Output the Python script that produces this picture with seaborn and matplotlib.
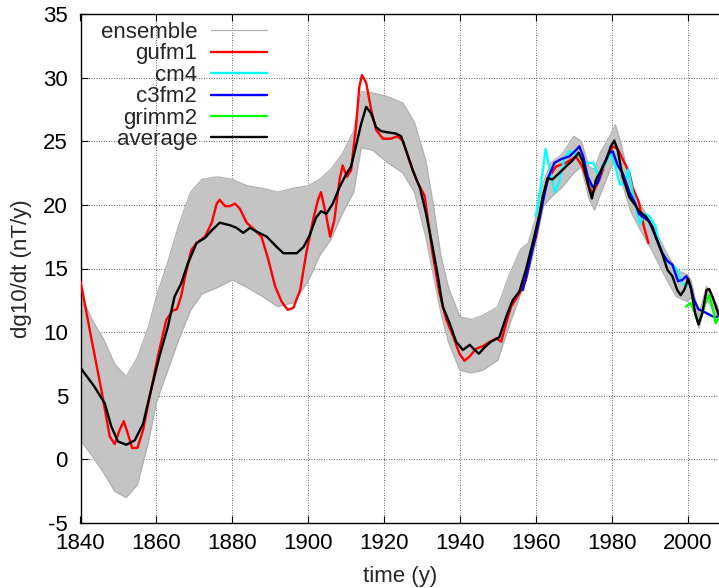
import numpy as np
import pandas as pd
import matplotlib
matplotlib.use("Agg")
import matplotlib.pyplot as plt
import seaborn as sns

# ---------------- data ----------------
ens_year = [1840, 1843, 1846, 1849, 1852, 1855, 1858, 1860, 1863, 1866, 1869, 1872,
            1876, 1880, 1884, 1888, 1892, 1896, 1900, 1903, 1906, 1909, 1912, 1914,
            1917, 1921, 1925, 1928, 1931, 1933, 1935, 1937, 1940, 1943, 1946, 1950,
            1953, 1956, 1958, 1960, 1962, 1964, 1967, 1970, 1972, 1974, 1975.5, 1977,
            1979.5, 1981, 1982.5, 1985, 1988, 1991, 1994, 1997, 2000, 2001, 2003,
            2005, 2008.3]
ens_lo = [1.5, 0.3, -1.0, -2.5, -3.0, -2.0, 1.5, 4.5, 7.0, 9.5, 11.7, 13.0,
          13.5, 14.1, 13.5, 12.8, 12.0, 12.3, 14.0, 16.0, 17.3, 19.3, 21.0, 24.5,
          24.3, 23.3, 22.5, 21.0, 17.5, 14.5, 11.5, 9.2, 7.0, 6.8, 7.0, 7.8,
          10.5, 13.0, 14.6, 17.0, 19.9, 20.6, 21.4, 22.5, 23.0, 20.5, 19.6, 20.8,
          22.7, 23.8, 22.0, 19.5, 17.8, 16.2, 14.4, 12.8, 12.4, 12.8, 10.3,
          12.6, 11.0]
ens_hi = [13.0, 11.0, 9.5, 7.5, 6.5, 8.0, 10.5, 12.8, 15.5, 18.5, 21.0, 22.0,
          22.2, 22.0, 21.5, 21.3, 21.0, 21.3, 21.5, 22.0, 22.8, 24.0, 25.8, 28.9,
          28.8, 28.5, 28.0, 26.5, 23.5, 20.0, 16.0, 13.5, 11.2, 11.0, 11.3, 12.0,
          14.5, 16.5, 17.0, 19.0, 21.8, 23.3, 24.0, 25.4, 25.0, 23.0, 22.8, 24.1,
          25.4, 26.3, 24.8, 21.5, 19.8, 18.3, 16.5, 14.9, 14.5, 14.0, 11.3,
          13.6, 11.8]

gufm1_year = [1840, 1842.8, 1845.5, 1847.7, 1849.0, 1850.3, 1851.4, 1852.5, 1853.6,
              1855.0, 1856.5, 1858.2, 1860.4, 1862.6, 1864.3, 1865.4, 1866.5, 1867.6,
              1869.2, 1870.6, 1872.8, 1874.6, 1875.9, 1876.7, 1878.1, 1879.4, 1880.7,
              1882.0, 1883.8, 1886.0, 1887.7, 1889.5, 1891.3, 1893.0, 1894.6, 1896.1,
              1897.9, 1899.5, 1901.3, 1902.6, 1903.4, 1904.8, 1905.8, 1906.9, 1908.3,
              1909.1, 1910.2, 1911.3, 1912.6, 1913.5, 1914.2, 1915.3, 1916.6, 1917.9,
              1919.7, 1921.8, 1923.6, 1925.0, 1926.3, 1928.5, 1930.7, 1932.8, 1934.6,
              1936.4, 1938.2, 1939.9, 1941.2, 1942.6, 1944.3, 1946.1, 1947.9, 1949.6,
              1950.9, 1952.2, 1953.5, 1955.7, 1957.4, 1959.2, 1960.1, 1961.8, 1963.5,
              1965.3, 1967.9, 1970.6, 1972.3, 1974.1, 1975.0, 1976.8, 1978.5, 1980.3,
              1981.6, 1983.4, 1984.7, 1985.5, 1987.2, 1988.5, 1989.7]
gufm1_val = [14.0, 9.6, 5.45, 1.8, 1.2, 2.3, 3.0, 2.0, 0.9,
             0.9, 2.3, 4.9, 8.1, 10.95, 11.7, 11.8, 12.8, 14.4,
             16.45, 17.0, 17.5, 18.6, 20.1, 20.4, 19.9, 19.9, 20.1,
             19.7, 18.6, 18.0, 17.5, 15.7, 13.6, 12.4, 11.75, 11.9,
             13.3, 16.2, 18.8, 20.4, 21.0, 19.1, 17.5, 18.8, 22.0,
             23.1, 22.2, 22.7, 26.1, 29.3, 30.2, 29.6, 27.5, 25.9,
             25.2, 25.2, 25.4, 25.0, 23.8, 22.0, 20.7, 16.2, 13.1,
             11.0, 9.7, 8.3, 7.75, 8.1, 8.7, 8.9, 9.25, 9.5,
             9.25, 10.7, 12.0, 13.05, 14.1, 16.7, 17.5, 20.5, 22.2,
             23.0, 23.3, 23.8, 23.0, 21.4, 20.9, 22.0, 23.5, 24.6,
             24.4, 23.3, 22.5, 21.4, 20.2, 18.3, 17.0]

cm4_year = [1960.0, 1961.3, 1962.6, 1964.0, 1965.0, 1966.2, 1967.5, 1968.8, 1970.1,
            1971.5, 1973.2, 1975.2, 1976.5, 1977.2, 1978.5, 1979.8, 1981.0, 1982.2,
            1983.5, 1984.4, 1985.8, 1987.5, 1988.7, 1990.0, 1991.6, 1992.6, 1994.2,
            1996.0, 1997.3, 1998.2, 1999.1, 1999.8]
cm4_val = [19.1, 21.4, 24.4, 22.3, 21.0, 21.8, 23.6, 24.2, 24.1,
           23.8, 23.3, 23.3, 22.3, 22.7, 23.3, 24.1, 23.0, 21.6,
           21.6, 22.8, 20.6, 18.5, 19.3, 19.1, 18.3, 16.8, 15.6,
           15.3, 14.9, 14.1, 13.7, 13.6]

c3fm2_year = [1956.6, 1958.3, 1960.9, 1963.1, 1964.9, 1966.7, 1968.8, 1970.6, 1971.5,
              1972.5, 1973.7, 1975.0, 1976.3, 1977.6, 1979.4, 1980.3, 1981.6, 1982.9,
              1984.7, 1986.4, 1987.2, 1989.9, 1991.6, 1993.4, 1994.7, 1996.0, 1997.5,
              1998.6, 1999.7, 2000.8, 2001.6, 2002.9, 2004.3, 2005.6, 2006.9, 2008.3]
c3fm2_val = [13.3, 15.4, 18.8, 22.0, 23.3, 23.6, 23.8, 24.3, 24.6,
             23.8, 22.2, 21.4, 21.7, 23.0, 24.1, 24.2, 23.1, 22.5,
             21.0, 20.0, 19.3, 18.7, 17.5, 16.2, 15.6, 15.3, 14.0,
             14.1, 14.4, 13.6, 12.6, 11.8, 11.6, 11.4, 11.2, 11.2]

grimm2_year = [1999.6, 2000.8, 2002.0, 2002.8, 2003.9, 2005.0, 2005.7, 2006.7, 2007.4, 2008.3]
grimm2_val = [12.0, 12.3, 11.5, 10.7, 11.5, 12.5, 12.9, 11.8, 10.7, 11.2]

avg_year = [1840, 1843.7, 1846.4, 1848.1, 1849.9, 1852.1, 1854.3, 1856.5, 1858.6,
            1860.8, 1863.0, 1864.8, 1866.5, 1868.3, 1870.6, 1872.8, 1874.6, 1876.7,
            1879.4, 1881.1, 1882.9, 1884.7, 1886.4, 1889.1, 1891.7, 1893.5, 1895.3,
            1897.0, 1898.8, 1900.4, 1902.1, 1903.4, 1904.8, 1906.5, 1908.3, 1910.0,
            1911.3, 1912.6, 1914.0, 1915.3, 1916.6, 1917.9, 1919.2, 1921.0, 1923.2,
            1924.5, 1925.8, 1927.6, 1929.5, 1931.1, 1932.8, 1934.2, 1935.5, 1937.3,
            1939.0, 1940.8, 1942.6, 1943.9, 1945.0, 1946.5, 1948.2, 1950.4, 1952.2,
            1953.9, 1955.7, 1957.4, 1959.2, 1961.0, 1961.8, 1963.1, 1964.4, 1966.2,
            1967.9, 1969.7, 1971.3, 1972.3, 1973.7, 1974.8, 1975.9, 1977.2, 1978.5,
            1979.8, 1980.7, 1981.6, 1982.9, 1984.7, 1986.4, 1987.2, 1989.0, 1990.7,
            1992.0, 1993.4, 1994.7, 1996.0, 1997.3, 1998.2, 1999.1, 2000.2, 2001.0,
            2002.0, 2002.9, 2003.9, 2005.0, 2005.7, 2006.7, 2008.3]
avg_val = [7.2, 5.7, 4.4, 2.6, 1.4, 1.15, 1.5, 2.8, 5.45,
           8.1, 10.4, 12.8, 13.8, 15.4, 17.0, 17.4, 18.0, 18.6,
           18.4, 18.2, 17.8, 18.2, 17.9, 17.5, 16.7, 16.2, 16.2,
           16.2, 16.7, 17.6, 19.0, 19.5, 19.3, 20.1, 21.4, 22.4,
           23.0, 24.6, 26.4, 27.7, 27.2, 26.1, 25.8, 25.7, 25.6,
           25.4, 24.3, 22.7, 21.3, 19.3, 16.7, 14.4, 12.0, 10.7,
           9.25, 8.6, 9.0, 8.6, 8.3, 8.8, 9.25, 9.6, 11.2,
           12.5, 13.2, 14.9, 17.0, 19.3, 20.6, 22.1, 22.0, 22.5,
           23.0, 23.5, 24.1, 23.5, 21.7, 20.5, 22.0, 22.7, 23.5,
           24.6, 25.05, 24.3, 22.2, 20.6, 19.9, 19.5, 19.1, 18.3,
           17.2, 16.1, 14.9, 14.4, 13.3, 12.9, 13.3, 14.2, 13.3,
           11.5, 10.6, 11.5, 13.3, 13.4, 12.7, 11.3]

x_ticks = [1840, 1860, 1880, 1900, 1920, 1940, 1960, 1980, 2000]
y_ticks = [-5, 0, 5, 10, 15, 20, 25, 30, 35]

# ---------------- style ----------------
sns.set_style("ticks")
plt.rcParams["font.family"] = ["Liberation Sans", "DejaVu Sans"]
FS = 16

fig = plt.figure(figsize=(7.19, 5.88), dpi=100)
ax = fig.add_axes([80.5 / 719, 65 / 588, 638.5 / 719, 509 / 588])

ens_color = "#b0b0b0"
ax.fill_between(ens_year, ens_lo, ens_hi, color="#c4c4c4", lw=0, zorder=1)
sns.lineplot(x=ens_year, y=ens_hi, ax=ax, color=ens_color, lw=0.9,
             estimator=None, sort=False, label="ensemble", zorder=2)
sns.lineplot(x=ens_year, y=ens_lo, ax=ax, color=ens_color, lw=0.9,
             estimator=None, sort=False, label="_nolegend_", zorder=2)

series = [
    (gufm1_year, gufm1_val, "#ff0000", "gufm1"),
    (cm4_year, cm4_val, "#00ffff", "cm4"),
    (c3fm2_year, c3fm2_val, "#0000ff", "c3fm2"),
    (grimm2_year, grimm2_val, "#00ff00", "grimm2"),
    (avg_year, avg_val, "#000000", "average"),
]
for i, (xs, ys, c, lab) in enumerate(series):
    df = pd.DataFrame({"year": xs, "value": ys})
    sns.lineplot(data=df, x="year", y="value", ax=ax, color=c, lw=1.7,
                 estimator=None, sort=False, label=lab, zorder=3 + i)

ax.set_xlim(1840, 2008.3)
ax.set_ylim(-5, 35)
ax.set_xticks(x_ticks)
ax.set_yticks(y_ticks)
ax.set_xticklabels([str(v) for v in x_ticks], fontsize=FS)
ax.set_yticklabels([str(v) for v in y_ticks], fontsize=FS)
ax.set_xlabel("time (y)", fontsize=FS, labelpad=9)
ax.set_ylabel("dg10/dt (nT/y)", fontsize=FS, labelpad=8)

ax.grid(True, color="black", linestyle=(0, (1, 2)), linewidth=0.6, alpha=0.8)
ax.tick_params(direction="in", length=5, width=0.8, top=True, right=False,
               colors="black", pad=9)
ax.tick_params(axis="x", pad=7)
for side in ["left", "bottom", "top"]:
    ax.spines[side].set_visible(True)
    ax.spines[side].set_color("black")
    ax.spines[side].set_linewidth(1.0)
ax.spines["right"].set_visible(False)

handles, labels = ax.get_legend_handles_labels()
order = ["ensemble", "gufm1", "cm4", "c3fm2", "grimm2", "average"]
hmap = dict(zip(labels, handles))
leg = ax.legend([hmap[k] for k in order], order, loc="upper right",
                bbox_to_anchor=((266.7 - 80.5) / 638.5, 1 - 8 / 509),
                frameon=False, markerfirst=False, fontsize=FS,
                handlelength=2.5, handletextpad=0.63, labelspacing=0.02,
                borderpad=0, borderaxespad=0)

fig.savefig("out.png", dpi=100)
